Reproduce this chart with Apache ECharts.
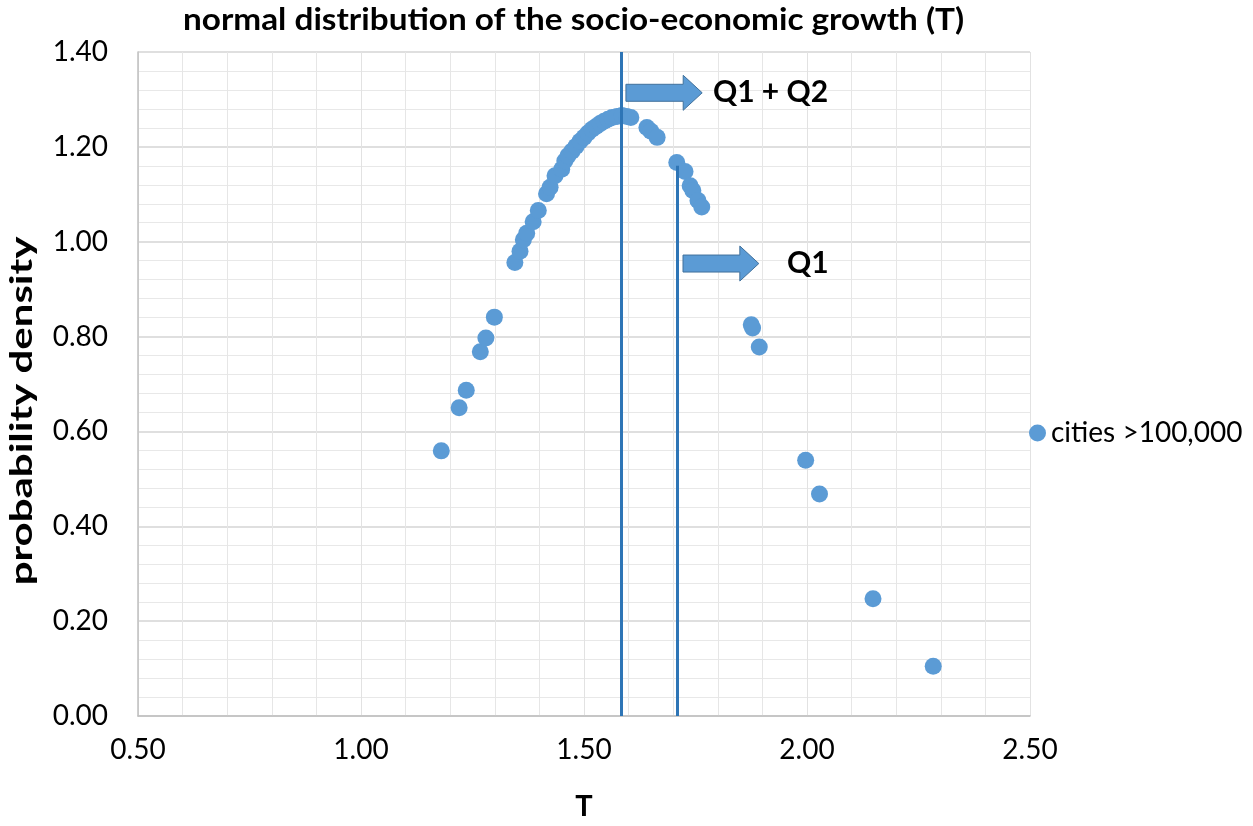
<!DOCTYPE html>
<html><head><meta charset="utf-8">
<script src="https://cdn.jsdelivr.net/npm/echarts@6/dist/echarts.min.js"></script>
<style>html,body{margin:0;padding:0;background:#fff}#c{width:1253px;height:826px}</style>
</head><body><div id="c"></div>
<script>
var titleText = 'normal distribution of the socio-economic growth (T)';
var seriesName = 'cities >100,000';
var xName = 'T';
var yName = 'probability density';
var tValues = [1.180,1.220,1.236,1.2675,1.280,1.299,
  1.345,1.3565,1.364,1.3715,1.386,1.3975,1.416,1.424,1.435,1.450,
  1.457,1.464,1.473,1.482,1.491,1.500,1.509,1.518,1.527,1.536,1.545,1.554,1.563,1.574,1.585,1.596,1.605,
  1.641,1.650,1.664,1.708,1.7265,1.738,1.744,1.7556,1.764,
  1.875,1.878,1.893,1.997,2.028,2.148,2.283];
var densityValues = [0.559,0.650,0.687,0.768,0.797,0.841,
  0.956,0.980,1.004,1.018,1.042,1.066,1.101,1.115,1.139,1.153,
  1.170,1.181,1.191,1.201,1.212,1.220,1.229,1.237,1.243,1.249,1.254,1.258,1.262,1.264,1.266,1.264,1.262,
  1.241,1.233,1.220,1.167,1.148,1.118,1.108,1.087,1.073,
  0.825,0.818,0.778,0.539,0.468,0.247,0.105];
var q12Line = 1.583;   // Q1 + Q2 boundary
var q1Line = 1.7085;   // Q1 boundary
var q1LineTop = 1.16;
var xTicks = [0.5, 2.5, 0.5];  // min, max, step
var yTicks = [0, 1.4, 0.2];

var pts = tValues.map(function(t,i){return [t, densityValues[i]];});
var FONT = 'Lato, "Open Sans", sans-serif';
var chart = echarts.init(document.getElementById('c'), null, {renderer:'canvas'});
var option = {
  animation:false,
  backgroundColor:'#ffffff',
  legend:{data:[seriesName],left:1024,top:414,itemWidth:17,itemHeight:17,itemGap:8,
    textStyle:{fontFamily:FONT,fontSize:28,color:'#000'}},
  grid:{left:138,right:223,top:52,bottom:104,containLabel:false},
  xAxis:{type:'value',min:xTicks[0],max:xTicks[1],interval:xTicks[2],
    name:xName,nameLocation:'middle',nameGap:76,
    nameTextStyle:{fontFamily:FONT,fontWeight:'bold',fontSize:29,color:'#000'},
    axisLine:{show:true,lineStyle:{color:'#bfbfbf',width:1.5}},
    axisTick:{show:false},
    axisLabel:{fontFamily:FONT,fontSize:28,color:'#000',margin:20,formatter:function(v){return v.toFixed(2);}},
    splitLine:{show:true,lineStyle:{color:'#e2e2e2',width:1}},
    minorTick:{show:false,splitNumber:5},
    minorSplitLine:{show:true,lineStyle:{color:'#e6e6e6',width:1}}
  },
  yAxis:{type:'value',min:yTicks[0],max:yTicks[1],interval:yTicks[2],
    axisLine:{show:true,lineStyle:{color:'#bfbfbf',width:1.5}},
    axisTick:{show:false},
    axisLabel:{fontFamily:FONT,fontSize:28,color:'#000',margin:30,formatter:function(v){return v.toFixed(2);}},
    splitLine:{show:true,lineStyle:{color:'#d4d4d4',width:1.5}},
    minorTick:{show:false,splitNumber:5},
    minorSplitLine:{show:true,lineStyle:{color:'#e8e8e8',width:1}}
  },
  series:[{
    name:seriesName,type:'scatter',data:pts,symbol:'circle',symbolSize:17,
    itemStyle:{color:'#5b9bd5',opacity:1},
    markLine:{silent:true,symbol:['none','none'],label:{show:false},
      lineStyle:{color:'#2e75b6',width:3,type:'solid'},
      data:[
        [{coord:[q12Line,yTicks[1]]},{coord:[q12Line,yTicks[0]]}],
        [{coord:[q1Line,q1LineTop]},{coord:[q1Line,yTicks[0]]}]
      ]}
  }]
};
chart.setOption(option);

// annotation arrows (positions in data units)
var arrows = [
  {x0:1.594,x1:1.765,y:1.314,label:'Q1 + Q2',tx:1.789},
  {x0:1.722,x1:1.892,y:0.954,label:'Q1',tx:1.955}
];
var g = [];
g.push({type:'text',left:183,top:5,scaleX:1.11,
  style:{text:titleText,fontFamily:FONT,fontWeight:'bold',fontSize:30,fill:'#000'}});
g.push({type:'text',x:22,y:411,rotation:Math.PI/2,scaleX:1.4,
  style:{text:yName,fontFamily:FONT,fontWeight:'bold',fontSize:30,fill:'#000',textAlign:'center',textVerticalAlign:'middle'}});
arrows.forEach(function(a){
  var p0 = chart.convertToPixel({gridIndex:0},[a.x0,a.y]);
  var p1 = chart.convertToPixel({gridIndex:0},[a.x1,a.y]);
  var pt = chart.convertToPixel({gridIndex:0},[a.tx,a.y]);
  var cy = p0[1], sh = 8.5, hh = 17.5, hl = 19;
  var hx = p1[0]-hl;
  g.push({type:'polygon',shape:{points:[[p0[0],cy-sh],[hx,cy-sh],[hx,cy-hh],[p1[0],cy],[hx,cy+hh],[hx,cy+sh],[p0[0],cy+sh]]},
    style:{fill:'#5b9bd5',stroke:'#41719c',lineWidth:1},z:10});
  g.push({type:'text',x:pt[0],y:cy,style:{text:a.label,fontFamily:FONT,fontWeight:'bold',fontSize:30,fill:'#000',textVerticalAlign:'middle',textAlign:'left'},z:10});
});
chart.setOption({graphic:g});
</script>
</body></html>
